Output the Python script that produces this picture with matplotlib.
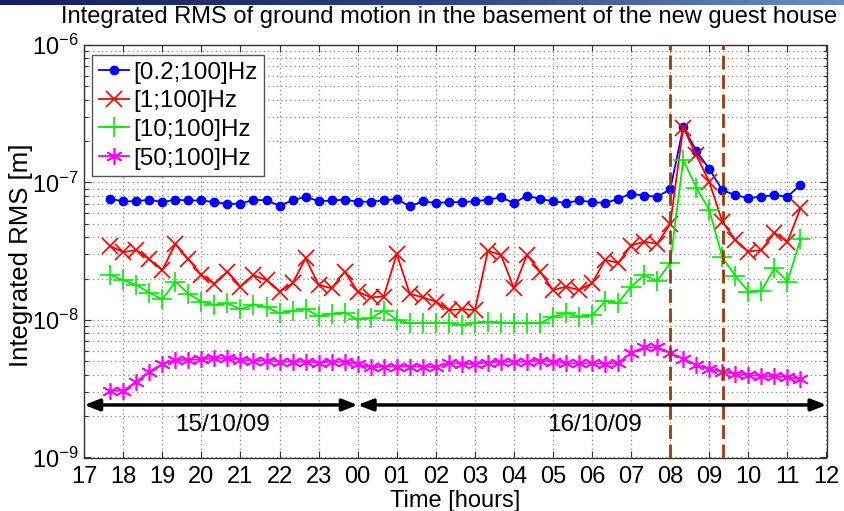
import numpy as np
import matplotlib
matplotlib.use("Agg")
import matplotlib.pyplot as plt
from matplotlib.ticker import LogLocator, NullFormatter, FixedLocator
from matplotlib.colors import LinearSegmentedColormap

plt.rcParams['font.family'] = ['Liberation Sans', 'DejaVu Sans']
plt.rcParams['mathtext.fontset'] = 'custom'
plt.rcParams['mathtext.rm'] = 'Liberation Sans'
plt.rcParams['mathtext.it'] = 'Liberation Sans:italic'
plt.rcParams['mathtext.bf'] = 'Liberation Sans:bold'

# Sample times: every 20 minutes from 17:40 (15/10/09) to 11:20 (16/10/09), in hours since midnight of day 1
start_hour = 17 + 40 / 60
step_hour = 1 / 3
n_samples = 54
hours = start_hour + step_hour * np.arange(n_samples)

band_labels = ["[0.2;100]Hz", "[1;100]Hz", "[10;100]Hz", "[50;100]Hz"]

rms_02_100 = [7.6e-8, 7.3e-8, 7.3e-8, 7.5e-8, 7.2e-8, 7.5e-8, 7.4e-8, 7.4e-8, 7.2e-8, 7.0e-8,
              7.0e-8, 7.5e-8, 7.4e-8, 6.8e-8, 7.4e-8, 7.9e-8, 7.3e-8, 7.4e-8, 7.5e-8, 7.25e-8,
              7.25e-8, 7.4e-8, 7.6e-8, 6.7e-8, 7.3e-8, 7.1e-8, 7.2e-8, 7.2e-8, 7.3e-8, 7.5e-8,
              7.8e-8, 7.1e-8, 8.0e-8, 7.6e-8, 7.3e-8, 7.1e-8, 7.4e-8, 7.2e-8, 7.1e-8, 7.6e-8,
              8.3e-8, 8.0e-8, 7.9e-8, 8.9e-8, 2.52e-7, 1.70e-7, 1.25e-7, 8.8e-8, 8.1e-8, 7.7e-8,
              7.9e-8, 8.1e-8, 7.9e-8, 9.6e-8]

rms_1_100 = [3.45e-8, 3.11e-8, 3.23e-8, 2.76e-8, 2.31e-8, 3.57e-8, 2.76e-8, 2.12e-8, 1.83e-8, 2.25e-8,
             1.75e-8, 2.12e-8, 1.95e-8, 1.61e-8, 1.85e-8, 2.81e-8, 1.80e-8, 1.70e-8, 2.25e-8, 1.61e-8,
             1.46e-8, 1.48e-8, 3.02e-8, 1.55e-8, 1.46e-8, 1.36e-8, 1.18e-8, 1.20e-8, 1.18e-8, 3.19e-8,
             2.97e-8, 1.70e-8, 2.97e-8, 2.25e-8, 1.65e-8, 1.75e-8, 1.65e-8, 1.85e-8, 2.74e-8, 2.60e-8,
             3.48e-8, 3.71e-8, 3.59e-8, 4.99e-8, 2.51e-7, 1.58e-7, 1.01e-7, 5.19e-8, 3.82e-8, 3.14e-8,
             3.23e-8, 4.31e-8, 3.71e-8, 6.49e-8]

rms_10_100 = [2.12e-8, 1.95e-8, 1.80e-8, 1.58e-8, 1.41e-8, 1.90e-8, 1.55e-8, 1.36e-8, 1.29e-8, 1.32e-8,
              1.20e-8, 1.29e-8, 1.24e-8, 1.12e-8, 1.17e-8, 1.20e-8, 1.07e-8, 1.11e-8, 1.13e-8, 1.01e-8,
              1.03e-8, 1.17e-8, 1.00e-8, 9.46e-9, 9.56e-9, 9.56e-9, 9.46e-9, 9.2e-9, 9.56e-9, 9.72e-9,
              9.56e-9, 9.56e-9, 9.46e-9, 9.46e-9, 1.06e-8, 1.12e-8, 1.06e-8, 1.08e-8, 1.37e-8, 1.33e-8,
              1.75e-8, 2.12e-8, 1.92e-8, 2.61e-8, 1.46e-7, 9.17e-8, 6.31e-8, 2.86e-8, 2.09e-8, 1.61e-8,
              1.63e-8, 2.38e-8, 1.90e-8, 3.86e-8]

rms_50_100 = [3.06e-9, 3.06e-9, 3.56e-9, 4.21e-9, 4.79e-9, 5.12e-9, 5.12e-9, 5.18e-9, 5.27e-9, 5.27e-9,
              5.12e-9, 5.06e-9, 5.06e-9, 4.97e-9, 4.97e-9, 4.97e-9, 4.89e-9, 4.97e-9, 4.97e-9, 4.76e-9,
              4.53e-9, 4.58e-9, 4.58e-9, 4.58e-9, 4.58e-9, 4.53e-9, 4.89e-9, 4.79e-9, 4.79e-9, 4.89e-9,
              4.97e-9, 4.97e-9, 4.97e-9, 5.06e-9, 4.97e-9, 4.84e-9, 4.84e-9, 4.84e-9, 4.79e-9, 4.89e-9,
              5.78e-9, 6.31e-9, 6.34e-9, 5.75e-9, 5.23e-9, 4.71e-9, 4.38e-9, 4.21e-9, 4.05e-9, 3.98e-9,
              3.91e-9, 3.91e-9, 3.83e-9, 3.72e-9]

hour_ticks = list(range(17, 37))
hour_tick_labels = ["17", "18", "19", "20", "21", "22", "23", "00", "01", "02",
                    "03", "04", "05", "06", "07", "08", "09", "10", "11", "12"]

# Event markers (08:00 and about 09:20 on 16/10/09)
event_hours = [32.0, 33.35]

# Day spans
day_spans = [(17, 24), (24, 36)]
day_labels = ["15/10/09", "16/10/09"]
day_label_hours = [20.55, 30.05]

W, H = 844, 511
fig = plt.figure(figsize=(W / 100, H / 100), dpi=100)

# Header bar gradient across the top edge
bar = fig.add_axes([0, 1 - 5 / H, 1, 5 / H])
grad = np.linspace(0, 1, 256).reshape(1, -1)
hdr_cmap = LinearSegmentedColormap.from_list("hdr", ["#14205a", "#2a3f86", "#6d8cc4"])
bar.imshow(grad, aspect='auto', cmap=hdr_cmap, extent=[0, 1, 0, 1])
bar.set_axis_off()

ax = fig.add_axes([84.2 / W, 1 - 457.5 / H, (826.5 - 84.2) / W, (457.5 - 45) / H])
ax.set_yscale('log')
ax.set_xlim(17, 36)
ax.set_ylim(1e-9, 1e-6)

grid_kw = dict(color='#8a8a8a', linestyle=(0, (1, 2.5)), linewidth=0.9)
ax.grid(True, which='major', axis='both', **grid_kw)
ax.grid(True, which='minor', axis='y', **grid_kw)
ax.set_axisbelow(True)

lw = 1.3
ax.plot(hours, rms_02_100, color='#0000ff', lw=lw, marker='o', ms=6, mec='#0000ff', label=band_labels[0], zorder=3)
ax.plot(hours, rms_1_100, color='#ff0000', lw=lw, marker='x', ms=11, mew=1.2, label=band_labels[1], zorder=3)
ax.plot(hours, rms_10_100, color='#00ee00', lw=lw, marker='+', ms=15, mew=1.2, label=band_labels[2], zorder=3)
ax.plot(hours, rms_50_100, color='#ff00ff', lw=lw, marker=(6, 2, 0), ms=12, mew=1.2, label=band_labels[3], zorder=3)

for eh in event_hours:
    ax.axvline(eh, color='#9c3a0c', lw=2.0, linestyle=(0, (5, 2)), zorder=4)

arrow_y = 2.41e-9
for (a, b) in day_spans:
    ax.annotate('', xy=(b, arrow_y), xytext=(a, arrow_y),
                arrowprops=dict(arrowstyle='<|-|>,head_length=0.9,head_width=0.35',
                                color='black', lw=2.5, shrinkA=0, shrinkB=0),
                zorder=5)
for lab, lh in zip(day_labels, day_label_hours):
    ax.text(lh, 1.72e-9, lab, ha='center', va='center', fontsize=17.5)

ax.xaxis.set_major_locator(FixedLocator(hour_ticks))
ax.set_xticklabels(hour_tick_labels)
ax.yaxis.set_major_locator(LogLocator(base=10, numticks=10))
ax.yaxis.set_minor_locator(LogLocator(base=10, subs=np.arange(2, 10), numticks=20))
ax.yaxis.set_minor_formatter(NullFormatter())

ax.tick_params(which='both', direction='in', top=True, right=True, labelsize=17, colors='#333333', labelcolor='black')
ax.tick_params(which='major', length=5, width=0.8)
ax.tick_params(axis='x', which='major', pad=6)
ax.tick_params(axis='y', which='major', pad=4)
ax.tick_params(which='minor', length=3, width=0.8)
for sp in ax.spines.values():
    sp.set_color('#333333')
    sp.set_linewidth(1.0)

ax.set_xlabel('Time [hours]', fontsize=17)
ax.xaxis.set_label_coords(0.5, -0.078)
ax.set_ylabel('Integrated RMS [m]', fontsize=18.5)
ax.yaxis.set_label_coords(-0.0685, 0.49)

fig.text(449 / W, 1 - 17 / H, 'Integrated RMS of ground motion in the basement of the new guest house',
         ha='center', va='center', fontsize=17)

leg = ax.legend(loc='upper left', bbox_to_anchor=(0.0105, 0.9758), borderaxespad=0,
                fontsize=17.5, fancybox=False, framealpha=1, edgecolor='#555555',
                handlelength=1.25, handletextpad=0.15, labelspacing=0.27, borderpad=0.28)
leg.get_frame().set_linewidth(1.0)

fig.savefig('out.png', dpi=100)
